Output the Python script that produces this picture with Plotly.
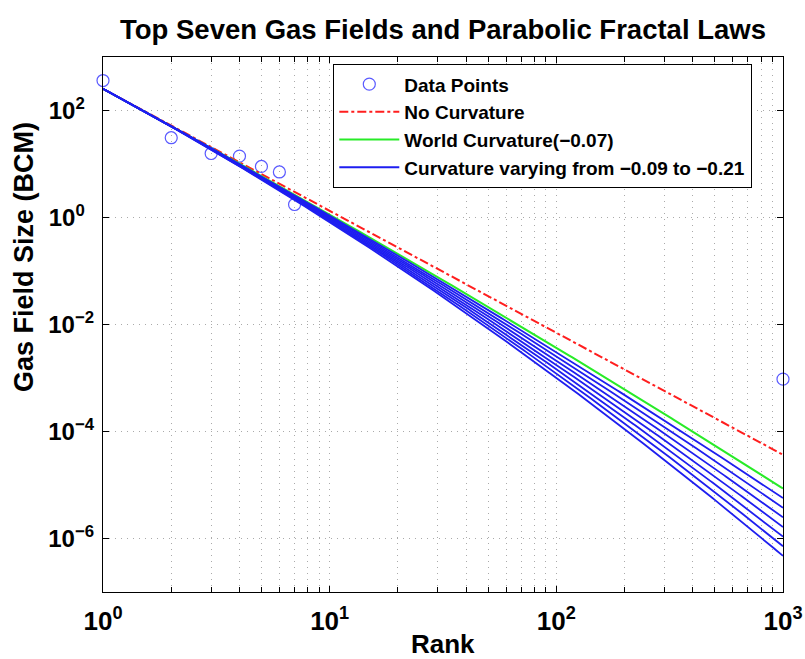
import numpy as np
import plotly.graph_objects as go

# ---- data ----
data_rank = [1, 2, 3, 4, 5, 6, 7, 1000]
data_size = [363, 31, 15.7, 14.0, 9.0, 7.1, 1.75, 9.5e-4]

# parabolic fractal law: log10(S) = a + b*log10(r) + c*log10(r)^2
law_intercept = 2.405
law_slope = -2.28
no_curvature = 0.0
world_curvature = -0.07
varying_curvatures = [-0.09, -0.11, -0.13, -0.15, -0.17, -0.19, -0.21]

rank_min, rank_max = 1, 1000

NB = "\u00a0"
x_tickvals = [1, 10, 100, 1000]
x_ticktext = ["10<sup>0</sup>", "10<sup>1</sup>", "10<sup>2</sup>", "10<sup>3</sup>"]
y_tickvals = [1e-6, 1e-4, 1e-2, 1, 1e2]
y_ticktext = ["10<sup>\u22126</sup>", "10<sup>\u22124</sup>", "10<sup>\u22122</sup>",
              "10<sup>0" + NB * 2 + "</sup>", "10<sup>2" + NB * 2 + "</sup>"]

title_text = "Top Seven Gas Fields and Parabolic Fractal Laws"
x_label = "Rank"
y_label = "Gas Field Size (BCM)"

FONT = "Liberation Sans, Arial, Helvetica, sans-serif"

ranks = np.logspace(np.log10(rank_min), np.log10(rank_max), 300)
lr = np.log10(ranks)


def law(c):
    return 10 ** (law_intercept + law_slope * lr + c * lr ** 2)


fig = go.Figure()

fig.add_trace(go.Scatter(
    x=data_rank, y=data_size, mode="markers", name="Data Points",
    cliponaxis=False,
    marker=dict(symbol="circle-open", size=12, color="rgb(90,90,255)",
                line=dict(width=1.2, color="rgb(90,90,255)")),
))

fig.add_trace(go.Scatter(
    x=ranks, y=law(no_curvature), mode="lines", name="No Curvature",
    line=dict(color="rgb(255,30,30)", width=2, dash="dashdot"),
))

fig.add_trace(go.Scatter(
    x=ranks, y=law(world_curvature), mode="lines",
    name="World Curvature(\u22120.07)",
    line=dict(color="rgb(40,235,40)", width=2),
))

for i, c in enumerate(varying_curvatures):
    fig.add_trace(go.Scatter(
        x=ranks, y=law(c), mode="lines",
        name="Curvature varying from \u22120.09 to \u22120.21",
        legendgroup="vary", showlegend=(i == 0),
        line=dict(color="rgb(30,30,240)", width=1.8),
    ))

grid_col = "rgb(170,170,170)"
grid_dash = "1px,5px"

fig.update_layout(
    width=805, height=659,
    paper_bgcolor="white", plot_bgcolor="white",
    margin=dict(l=103, r=22, t=57, b=67),
    font=dict(family=FONT, color="black"),
    title=dict(text=title_text, xref="paper", x=0.5, xanchor="center",
               yref="container", y=1 - 29 / 659, yanchor="middle",
               font=dict(size=27.5, family=FONT, weight="bold", color="black")),
    legend=dict(x=(333 - 103) / 680, y=(592 - 64) / 535, xanchor="left", yanchor="top",
                bgcolor="white", bordercolor="black", borderwidth=1.3,
                font=dict(size=19, family=FONT, weight="bold"),
                itemwidth=60, tracegroupgap=0),
    showlegend=True,
    annotations=[
        dict(text=x_label, xref="paper", yref="paper", x=0.5, y=-(644 - 592) / 535,
             xanchor="center", yanchor="middle", showarrow=False,
             font=dict(size=26, family=FONT, weight="bold")),
        dict(text=y_label, xref="paper", yref="paper", x=-(103 - 24) / 680,
             y=(592 - 257) / 535, xanchor="center", yanchor="middle",
             textangle=-90, showarrow=False,
             font=dict(size=27, family=FONT, weight="bold")),
    ],
)

fig.update_xaxes(
    type="log", range=[np.log10(rank_min), np.log10(rank_max)],
    tickmode="array", tickvals=x_tickvals, ticktext=x_ticktext, automargin=False,
    showline=True, linecolor="black", linewidth=1.3, mirror="allticks",
    ticks="inside", ticklen=6, tickcolor="black", ticklabelstandoff=6,
    showgrid=True, gridcolor=grid_col, griddash=grid_dash, gridwidth=1,
    minor=dict(ticks="inside", ticklen=5, tickcolor="black", dtick="D1",
               showgrid=True, gridcolor=grid_col, griddash=grid_dash, gridwidth=1),
    tickfont=dict(size=26, family=FONT, weight="bold"),
    zeroline=False,
)

fig.update_yaxes(
    type="log", range=[-7, 3],
    tickmode="array", tickvals=y_tickvals, ticktext=y_ticktext, automargin=False,
    showline=True, linecolor="black", linewidth=1.3, mirror="allticks",
    ticks="inside", ticklen=6, tickcolor="black", ticklabelstandoff=3,
    showgrid=True, gridcolor=grid_col, griddash=grid_dash, gridwidth=1,
    tickfont=dict(size=24, family=FONT, weight="bold"),
    zeroline=False,
)

fig.write_html("out.html", config={"displayModeBar": False},
               post_script="document.body.style.margin='0';document.body.style.padding='0';")
